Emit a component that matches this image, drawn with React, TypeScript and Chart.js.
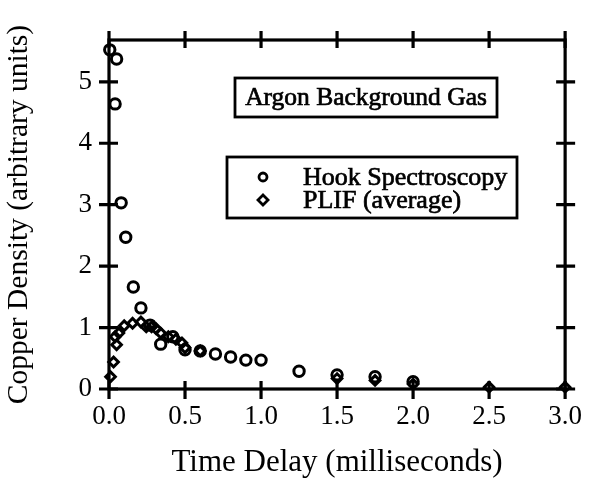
import React, { useEffect, useRef } from "react";
import { Chart, registerables } from "chart.js";

Chart.register(...registerables);

const hookX = [0.005, 0.04, 0.05, 0.08, 0.11, 0.16, 0.21, 0.27, 0.34, 0.42, 0.5, 0.6, 0.7, 0.8, 0.9, 1.0, 1.25, 1.5, 1.75, 2.0];
const hookY = [5.52, 4.64, 5.37, 3.03, 2.47, 1.66, 1.32, 1.04, 0.73, 0.85, 0.64, 0.62, 0.57, 0.52, 0.47, 0.47, 0.29, 0.23, 0.2, 0.12];

const plifX = [0.01, 0.03, 0.04, 0.05, 0.065, 0.1, 0.155, 0.21, 0.245, 0.28, 0.31, 0.34, 0.39, 0.44, 0.48, 0.5, 0.6, 1.5, 1.75, 2.0, 2.5, 3.0];
const plifY = [0.2, 0.44, 0.85, 0.72, 0.91, 1.03, 1.07, 1.09, 1.01, 1.01, 0.98, 0.91, 0.85, 0.81, 0.75, 0.67, 0.62, 0.17, 0.14, 0.08, 0.03, 0.03];

const xTicks = [0, 0.5, 1.0, 1.5, 2.0, 2.5, 3.0];
const yTicks = [0, 1, 2, 3, 4, 5];

const seriesNames = ["Hook Spectroscopy", "PLIF (average)"];
const annotationText = "Argon Background Gas";
const xTitle = "Time Delay (milliseconds)";
const yTitle = "Copper Density (arbitrary units)";

const FONT = "'Liberation Serif', 'Times New Roman', serif";

const framePlugin = {
  id: "frameAndNotes",
  afterDraw(chart: any) {
    const { ctx, chartArea: a, scales } = chart;
    const xs = scales.x;
    const ys = scales.y;
    ctx.save();
    ctx.strokeStyle = "#000";
    ctx.lineWidth = 3.2;
    ctx.strokeRect(a.left, a.top, a.right - a.left, a.bottom - a.top);
    ctx.beginPath();
    xTicks.forEach((v) => {
      const px = xs.getPixelForValue(v);
      ctx.moveTo(px, a.bottom - 8);
      ctx.lineTo(px, a.bottom + 10);
      ctx.moveTo(px, a.top - 9);
      ctx.lineTo(px, a.top + 8);
    });
    yTicks.forEach((v) => {
      const py = ys.getPixelForValue(v);
      ctx.moveTo(a.left - 10, py);
      ctx.lineTo(a.left + 9, py);
      ctx.moveTo(a.right - 9, py);
      ctx.lineTo(a.right + 10, py);
    });
    ctx.stroke();

    // annotation box
    const bx = a.left + 126, by = a.top + 38, bw = 262, bh = 39;
    ctx.lineWidth = 2.8;
    ctx.strokeRect(bx, by, bw, bh);
    ctx.fillStyle = "#000";
    ctx.font = `25.5px ${FONT}`;
    ctx.textAlign = "center";
    ctx.textBaseline = "middle";
    ctx.lineWidth = 0.7;
    ctx.fillText(annotationText, bx + bw / 2, by + bh / 2 + 1);
    ctx.strokeText(annotationText, bx + bw / 2, by + bh / 2 + 1);

    // legend box
    const lx = a.left + 118, ly = a.top + 117, lw = 290, lh = 61;
    ctx.lineWidth = 2.8;
    ctx.strokeRect(lx, ly, lw, lh);
    ctx.textAlign = "left";
    ctx.font = `26px ${FONT}`;
    const rows = [ly + 20, ly + 43];
    const styles = ["circle", "rectRot"];
    rows.forEach((ry, i) => {
      ctx.lineWidth = 2.8;
      ctx.strokeStyle = "#000";
      ctx.fillStyle = "#fff";
      ctx.beginPath();
      if (styles[i] === "circle") {
        ctx.arc(lx + 36, ry, 4, 0, Math.PI * 2);
      } else {
        ctx.moveTo(lx + 36, ry - 5);
        ctx.lineTo(lx + 41, ry);
        ctx.lineTo(lx + 36, ry + 5);
        ctx.lineTo(lx + 31, ry);
        ctx.closePath();
      }
      ctx.fill();
      ctx.stroke();
      ctx.fillStyle = "#000";
      ctx.lineWidth = 0.7;
      ctx.fillText(seriesNames[i], lx + 76, ry + 1);
      ctx.strokeText(seriesNames[i], lx + 76, ry + 1);
    });
    ctx.restore();
  },
};

export default function App() {
  const ref = useRef<HTMLCanvasElement>(null);
  useEffect(() => {
    if (!ref.current) return;
    const chart = new Chart(ref.current, {
      type: "scatter",
      data: {
        datasets: [
          {
            label: seriesNames[0],
            data: hookX.map((x, i) => ({ x, y: hookY[i] })),
            pointStyle: "circle",
            pointRadius: 5.2,
            pointBorderWidth: 3,
            borderColor: "#000",
            backgroundColor: "rgba(255,255,255,0)",
            clip: false as any,
          },
          {
            label: seriesNames[1],
            data: plifX.map((x, i) => ({ x, y: plifY[i] })),
            pointStyle: "rectRot",
            pointRadius: 4.8,
            pointBorderWidth: 3,
            borderColor: "#000",
            backgroundColor: "rgba(255,255,255,0)",
            clip: false as any,
          },
        ],
      },
      options: {
        animation: false,
        responsive: false,
        layout: { padding: { top: 40, right: 22, left: 0, bottom: 0 } },
        plugins: { legend: { display: false }, tooltip: { enabled: false } },
        scales: {
          x: {
            type: "linear",
            min: 0,
            max: 3,
            afterBuildTicks: (s: any) => {
              s.ticks = xTicks.map((value) => ({ value }));
            },
            afterFit: (s: any) => {
              s.height = 92;
            },
            grid: { display: false, drawTicks: false },
            border: { display: false },
            ticks: {
              color: "#000",
              padding: 12,
              font: { family: FONT, size: 27 },
              callback: (v: any) => Number(v).toFixed(1),
              maxRotation: 0,
            },
            title: {
              display: true,
              text: xTitle,
              color: "#000",
              font: { family: FONT, size: 31 },
              padding: { top: 0, bottom: 0 },
            },
          },
          y: {
            type: "linear",
            min: 0,
            max: 5.68,
            afterBuildTicks: (s: any) => {
              s.ticks = yTicks.map((value) => ({ value }));
            },
            afterFit: (s: any) => {
              s.width = 109;
            },
            grid: { display: false, drawTicks: false },
            border: { display: false },
            ticks: {
              color: "#000",
              padding: 17,
              font: { family: FONT, size: 27 },
              callback: (v: any) => String(v),
            },
            title: {
              display: true,
              text: yTitle,
              color: "#000",
              font: { family: FONT, size: 29.5 },
              padding: { top: 2, bottom: 0 },
            },
          },
        },
      },
      plugins: [framePlugin],
    });
    return () => chart.destroy();
  }, []);
  return (
    <div style={{ position: "fixed", left: 0, top: 0, width: 594, height: 481, background: "#fff" }}>
      <canvas ref={ref} width={594} height={481} style={{ display: "block" }} />
    </div>
  );
}
